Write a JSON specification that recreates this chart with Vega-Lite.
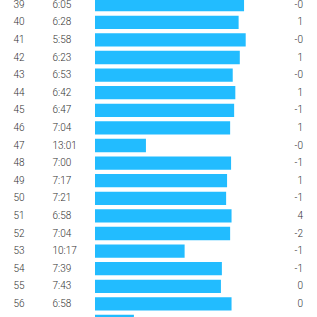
{
  "$schema": "https://vega.github.io/schema/vega-lite/v6.json",
  "width": 317,
  "height": 317,
  "autosize": {"type": "none"},
  "padding": 0,
  "background": "#ffffff",
  "config": {"view": {"stroke": null}},
  "data": {
    "values": [
      {"lap": 39, "pace": "6:05", "sec": 365, "elev": "-0"},
      {"lap": 40, "pace": "6:28", "sec": 388, "elev": "1"},
      {"lap": 41, "pace": "5:58", "sec": 358, "elev": "-0"},
      {"lap": 42, "pace": "6:23", "sec": 383, "elev": "1"},
      {"lap": 43, "pace": "6:53", "sec": 413, "elev": "-0"},
      {"lap": 44, "pace": "6:42", "sec": 402, "elev": "1"},
      {"lap": 45, "pace": "6:47", "sec": 407, "elev": "-1"},
      {"lap": 46, "pace": "7:04", "sec": 424, "elev": "1"},
      {"lap": 47, "pace": "13:01", "sec": 781, "elev": "-0"},
      {"lap": 48, "pace": "7:00", "sec": 420, "elev": "-1"},
      {"lap": 49, "pace": "7:17", "sec": 437, "elev": "1"},
      {"lap": 50, "pace": "7:21", "sec": 441, "elev": "-1"},
      {"lap": 51, "pace": "6:58", "sec": 418, "elev": "4"},
      {"lap": 52, "pace": "7:04", "sec": 424, "elev": "-2"},
      {"lap": 53, "pace": "10:17", "sec": 617, "elev": "-1"},
      {"lap": 54, "pace": "7:39", "sec": 459, "elev": "-1"},
      {"lap": 55, "pace": "7:43", "sec": 463, "elev": "0"},
      {"lap": 56, "pace": "6:58", "sec": 418, "elev": "0"},
      {"lap": 57, "pace": "13:52", "sec": 832, "elev": "0"}
    ]
  },
  "encoding": {
    "y": {
      "field": "lap",
      "type": "ordinal",
      "axis": null,
      "scale": {
        "domain": [39, 40, 41, 42, 43, 44, 45, 46, 47, 48, 49, 50, 51, 52, 53, 54, 55, 56, 57],
        "range": [-4.1, 330.3],
        "paddingInner": 0.245,
        "paddingOuter": 0.1225
      }
    }
  },
  "layer": [
    {
      "mark": {"type": "bar", "color": "#22bcff"},
      "encoding": {
        "x": {
          "field": "sec",
          "type": "quantitative",
          "axis": null,
          "scale": {"domain": [997, 358], "range": [95, 245.7], "zero": false, "nice": false}
        },
        "x2": {"datum": 997}
      }
    },
    {
      "transform": [{"filter": "datum.lap < 57"}],
      "layer": [
        {
          "mark": {"type": "text", "align": "left", "baseline": "middle", "font": "Roboto", "fontWeight": 300, "fontSize": 10, "color": "#333333"},
          "encoding": {"x": {"value": 13.5}, "text": {"field": "lap"}}
        },
        {
          "mark": {"type": "text", "align": "left", "baseline": "middle", "font": "Roboto", "fontWeight": 300, "fontSize": 10, "color": "#333333"},
          "encoding": {"x": {"value": 52.5}, "text": {"field": "pace"}}
        },
        {
          "mark": {"type": "text", "align": "right", "baseline": "middle", "font": "Roboto", "fontWeight": 300, "fontSize": 10, "color": "#333333"},
          "encoding": {"x": {"value": 303}, "text": {"field": "elev"}}
        }
      ]
    }
  ]
}
